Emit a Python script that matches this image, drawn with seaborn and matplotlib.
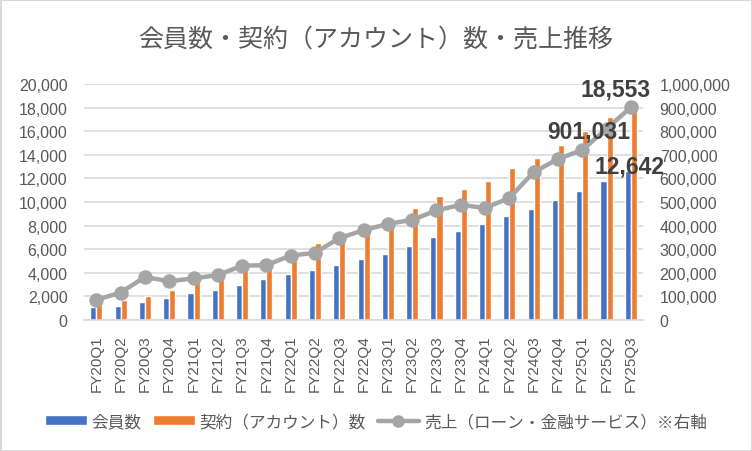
import matplotlib
matplotlib.use('Agg')
import matplotlib.pyplot as plt
from matplotlib.lines import Line2D
from matplotlib.ticker import FuncFormatter
import seaborn as sns
import pandas as pd

quarters = ['FY20Q1', 'FY20Q2', 'FY20Q3', 'FY20Q4',
            'FY21Q1', 'FY21Q2', 'FY21Q3', 'FY21Q4',
            'FY22Q1', 'FY22Q2', 'FY22Q3', 'FY22Q4',
            'FY23Q1', 'FY23Q2', 'FY23Q3', 'FY23Q4',
            'FY24Q1', 'FY24Q2', 'FY24Q3', 'FY24Q4',
            'FY25Q1', 'FY25Q2', 'FY25Q3']
members = [1100, 1160, 1500, 1860, 2260, 2520, 2940, 3450, 3880, 4260, 4680, 5200,
           5620, 6270, 7010, 7520, 8140, 8820, 9380, 10140, 10900, 11750, 12642]
accounts = [1480, 1670, 2010, 2520, 3250, 3500, 4320, 5130, 5840, 6540, 6950, 7520,
            8480, 9470, 10480, 11100, 11780, 12850, 13690, 14790, 15980, 17170, 18553]
sales = [85000, 116000, 182000, 164000, 176000, 190000, 230000, 232000, 273000, 284000,
         347000, 380000, 407000, 424000, 464000, 488000, 474000, 517000, 626000, 682000,
         720000, 810000, 901031]

name_members = '会員数'
name_accounts = '契約（アカウント）数'
name_sales = '売上（ローン・金融サービス）※右軸'
title = '会員数・契約（アカウント）数・売上推移'

blue = '#4472C4'
orange = '#ED7D31'
gray = '#A5A5A5'
text_gray = '#595959'
grid_gray = '#D9D9D9'

sns.set_style('white')
plt.rcParams['font.family'] = ['Liberation Sans', 'Noto Sans CJK JP', 'DejaVu Sans']

bars = pd.DataFrame({
    'quarter': quarters * 2,
    'series': [name_members] * len(quarters) + [name_accounts] * len(quarters),
    'value': members + accounts,
})
line = pd.DataFrame({'quarter': quarters, 'sales': sales})

fig = plt.figure(figsize=(7.52, 4.52), dpi=100)
fig.patch.set_edgecolor(grid_gray)
fig.patch.set_linewidth(2)
ax = fig.add_axes([0.112, 0.290, 0.743, 0.522])

sns.barplot(data=bars, x='quarter', y='value', hue='series',
            palette=[blue, orange], width=0.5, saturation=1, ax=ax)
ax.set_ylim(0, 20000)
ax.set_yticks(range(0, 20001, 2000))
ax.yaxis.set_major_formatter(FuncFormatter(lambda v, p: f'{int(v):,}'))
ax.grid(axis='y', color=grid_gray, linewidth=1.2)
ax.set_axisbelow(True)
ax.set_xlabel('')
ax.set_ylabel('')
ax.set_xlim(-0.5, len(quarters) - 0.5)
ax.tick_params(axis='y', length=0, pad=12, labelsize=11.5, labelcolor=text_gray)
ax.tick_params(axis='x', length=0, pad=10, labelsize=11, labelcolor=text_gray, labelrotation=90)
for s in ['top', 'right', 'left']:
    ax.spines[s].set_visible(False)
ax.spines['bottom'].set_color(grid_gray)
ax.spines['bottom'].set_linewidth(1.2)
handles, labels = ax.get_legend_handles_labels()
ax.get_legend().remove()

ax2 = ax.twinx()
sns.pointplot(data=line, x='quarter', y='sales', color=gray, markers='o',
              linewidth=3.2, markersize=8, ax=ax2)
ax2.set_ylim(0, 1000000)
ax2.set_yticks(range(0, 1000001, 100000))
ax2.yaxis.set_major_formatter(FuncFormatter(lambda v, p: f'{int(v):,}'))
ax2.set_ylabel('')
ax2.tick_params(axis='y', length=0, pad=12, labelsize=11.5, labelcolor=text_gray)
for s in ['top', 'right', 'left', 'bottom']:
    ax2.spines[s].set_visible(False)

# data labels for the latest quarter
last = len(quarters) - 1
lab = dict(fontsize=16.5, fontweight='bold', color='#404040', ha='center', va='center',
           textcoords='offset points')
ax.annotate(f'{accounts[-1]:,}', xy=(last + 0.125, accounts[-1]), xytext=(-13, 9), **lab)
ax.annotate(f'{members[-1]:,}', xy=(last - 0.125, members[-1]), xytext=(1, 3.5), **lab)
ax2.annotate(f'{sales[-1]:,}', xy=(last, sales[-1]), xytext=(-30, -17), **lab)

fig.suptitle(title, x=0.5, y=0.94, fontsize=18, color=text_gray)

handles.append(Line2D([], [], color=gray, linewidth=3.2, marker='o', markersize=8))
labels.append(name_sales)
fig.legend(handles, labels, loc='center', bbox_to_anchor=(0.5, 0.066), ncol=3,
           frameon=False, fontsize=12, labelcolor=text_gray, handlelength=2.5,
           handleheight=0.5, handletextpad=0.3, columnspacing=0.7)

fig.savefig('out.png', dpi=100)
